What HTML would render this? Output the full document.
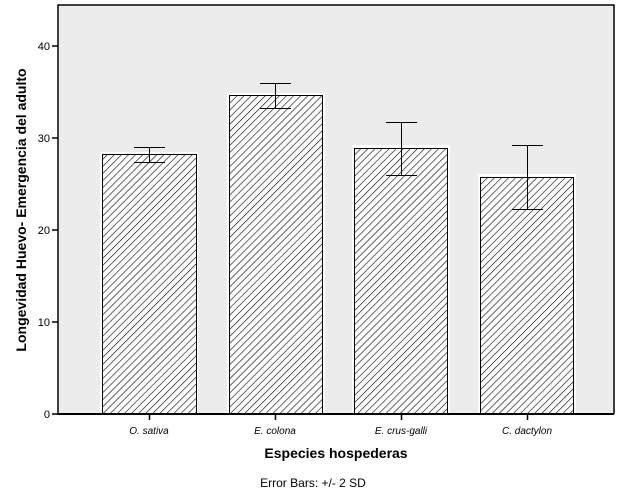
<!DOCTYPE html><html><head><style>body{margin:0;background:#fff}svg{display:block}</style></head><body>
<svg width="626" height="501" xmlns="http://www.w3.org/2000/svg" font-family="Liberation Sans, sans-serif">
<defs><pattern id="h" width="5" height="5" patternUnits="userSpaceOnUse" patternTransform="rotate(45)"><rect width="5" height="5" fill="#fff"/><line x1="0" y1="0" x2="0" y2="5" stroke="#000" stroke-width="1.2"/></pattern></defs>
<rect x="59" y="6" width="555" height="408" fill="#ececec"/>
<path d="M58,414V5H614V414" fill="none" stroke="#000" stroke-width="1.5"/>
<g stroke="#fff" stroke-width="2">
<rect x="101" y="153" width="96" height="262" fill="#fff"/>
<rect x="228" y="94" width="96" height="321" fill="#fff"/>
<rect x="353" y="146" width="96" height="269" fill="#fff"/>
<rect x="479" y="175" width="96" height="240" fill="#fff"/>
</g>
<g stroke="#000" stroke-width="1">
<rect x="102.5" y="154.5" width="94" height="260" fill="url(#h)"/>
<rect x="229.5" y="95.5" width="93" height="319" fill="url(#h)"/>
<rect x="354.5" y="148.5" width="93" height="266" fill="url(#h)"/>
<rect x="480.5" y="177.5" width="93" height="237" fill="url(#h)"/>
<path d="M149.5,147V162M134,147.5H165M134,162.5H165"/>
<path d="M275.5,83V108M260,83.5H291M260,108.5H291"/>
<path d="M401.5,122V176M386,122.5H417M386,175.5H417"/>
<path d="M527.5,145V210M512,145.5H543M512,209.5H543"/>
</g>
<line x1="57" y1="414" x2="614" y2="414" stroke="#000" stroke-width="2"/>
<g stroke="#000" stroke-width="1.5"><path d="M52,414H58M52,322H58M52,230H58M52,138H58M52,46H58M149.5,414V420M275.5,414V420M401.5,414V420M527.5,414V420"/></g>
<g font-size="11" text-anchor="end"><text x="50" y="418">0</text><text x="50" y="326">10</text><text x="50" y="234">20</text><text x="50" y="142">30</text><text x="50" y="50">40</text></g>
<g font-size="10" font-style="italic" text-anchor="middle"><text x="149" y="434">O. sativa</text><text x="275" y="434">E. colona</text><text x="401" y="434">E. crus-galli</text><text x="527" y="434">C. dactylon</text></g>
<text x="336" y="458" font-size="14" font-weight="bold" text-anchor="middle">Especies hospederas</text>
<text x="313" y="487" font-size="12" text-anchor="middle">Error Bars: +/- 2 SD</text>
<text transform="translate(26,210) rotate(-90)" font-size="14" font-weight="bold" text-anchor="middle">Longevidad Huevo- Emergencia del adulto</text>
</svg></body></html>
